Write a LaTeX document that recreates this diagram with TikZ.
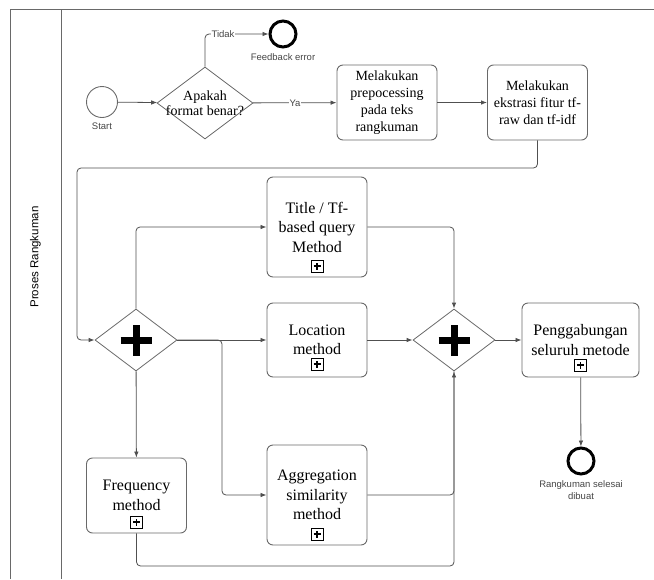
\documentclass[tikz,border=0pt]{standalone}
\usepackage{fontspec}
\setmainfont{Liberation Serif}
\setsansfont{Liberation Sans}
\usetikzlibrary{arrows.meta,shapes.geometric}
\definecolor{bpmn_line}{RGB}{80, 80, 80}
\definecolor{bpmn_border}{RGB}{105, 105, 105}
\definecolor{lbl_text}{RGB}{70, 70, 70}
\tikzstyle{task}=[rectangle,rounded corners=6pt,draw=bpmn_border,fill=white,
  line width=0.9pt,minimum width=100pt,minimum height=75pt,align=center,
  font=\fontsize{14}{17}\selectfont]
\tikzstyle{subtask}=[task,font=\fontsize{16}{19.5}\selectfont]
\tikzstyle{decision}=[diamond,draw=bpmn_border,line width=0.8pt,inner sep=0pt,
  minimum width=96pt,minimum height=72pt]
\tikzstyle{andgate}=[diamond,draw=bpmn_border,line width=0.8pt,inner sep=0pt,
  minimum width=82pt,minimum height=62pt,
  path picture={\draw[line width=7pt,black]
    ([xshift=-15.5pt]path picture bounding box.center) -- ([xshift=15.5pt]path picture bounding box.center)
    ([yshift=-15.5pt]path picture bounding box.center) -- ([yshift=15.5pt]path picture bounding box.center);}]
\tikzstyle{marker}=[rectangle,draw=black,line width=0.7pt,minimum size=12pt,inner sep=0pt,
  path picture={\draw[line width=1.4pt]
    ([xshift=-3.5pt]path picture bounding box.center) -- ([xshift=3.5pt]path picture bounding box.center)
    ([yshift=-3.5pt]path picture bounding box.center) -- ([yshift=3.5pt]path picture bounding box.center);}]
\tikzstyle{startev}=[circle,draw=bpmn_border,line width=0.9pt,minimum size=31pt,inner sep=0pt]
\tikzstyle{endev}=[circle,draw=black,line width=3pt,minimum size=26pt,inner sep=0pt]
\tikzstyle{lbl}=[font=\sffamily\fontsize{9.5}{12}\selectfont,text=lbl_text,align=center]
\tikzstyle{edgelabel}=[lbl,fill=white,inner sep=1pt]
\tikzstyle{lane}=[draw=bpmn_border,line width=1pt]
\tikzstyle{flow}=[draw=bpmn_line,line width=0.8pt,rounded corners=4pt,
  -{Latex[length=6pt,width=4.5pt]}]
\tikzstyle{joinline}=[draw=bpmn_line,line width=0.8pt,rounded corners=4pt]
\tikzstyle{none}=[]

\begin{document}
\begin{tikzpicture}[x=10pt,y=10pt]
            \useasboundingbox (0,0) rectangle (65.4,-57.9);
            % pool and lane
            \draw [style=lane] (1.0,-57.9) -- (1.0,-0.9) -- (65.4,-0.9);
            \draw [style=lane] (6.15,-0.9) -- (6.15,-57.9);
            \node [style=none, rotate=90, font=\sffamily\fontsize{11.5}{13}\selectfont] (0) at (3.55,-25.7) {Proses Rangkuman};
            % events, gateways, tasks
            \node [style=startev, label={[lbl, label distance=1pt]below:Start}] (1) at (10.2,-10.2) {};
            \node [style=decision, label={[font=\fontsize{14}{15}\selectfont, align=center]center:Apakah\\format benar?}] (2) at (20.5,-10.3) {};
            \node [style=endev, label={[lbl, label distance=2pt]below:Feedback error}] (3) at (28.3,-3.4) {};
            \node [style=task] (4) at (38.7,-10.25) {Melakukan\\prepocessing\\pada teks\\rangkuman};
            \node [style=task] (5) at (53.75,-10.25) {Melakukan\\ekstrasi fitur tf-\\raw dan tf-idf};
            \node [style=andgate] (6) at (13.6,-34) {};
            \node [style=subtask, minimum height=100pt] (7) at (31.7,-22.7) {Title / Tf-\\based query\\Method};
            \node [style=subtask, minimum height=74pt] (8) at (31.7,-34) {Location\\method};
            \node [style=subtask] (9) at (13.65,-49.55) {Frequency\\method};
            \node [style=subtask, minimum height=100pt] (10) at (31.7,-49.5) {Aggregation\\similarity\\method};
            \node [style=andgate] (11) at (45.4,-34) {};
            \node [style=subtask, minimum width=117pt, minimum height=74pt] (12) at (58.05,-34) {Penggabungan\\seluruh metode};
            \node [style=endev, label={[lbl, label distance=2pt]below:Rangkuman selesai\\dibuat}] (13) at (58.1,-46.1) {};
            % subprocess markers
            \node [style=marker] (50) at (31.7,-26.6) {};
            \node [style=marker] (51) at (31.7,-36.4) {};
            \node [style=marker] (52) at (13.65,-52.2) {};
            \node [style=marker] (53) at (31.7,-53.4) {};
            \node [style=marker] (54) at (58.05,-36.5) {};
            % bend points
            \node [style=none] (20) at (20.5,-3.4) {};
            \node [style=none] (21) at (53.75,-16.8) {};
            \node [style=none] (22) at (7.7,-16.8) {};
            \node [style=none] (23) at (7.7,-34) {};
            \node [style=none] (24) at (13.6,-22.7) {};
            \node [style=none] (25) at (22.2,-34) {};
            \node [style=none] (26) at (22.2,-49.5) {};
            \node [style=none] (27) at (45.4,-22.7) {};
            \node [style=none] (28) at (13.65,-56.6) {};
            \node [style=none] (29) at (45.4,-56.6) {};
            \node [style=none] (30) at (45.4,-49.5) {};
            % flows
            \draw [style=flow] (1) to (2);
            \draw [style=flow] (2) to (20.center) to (3);
            \draw [style=flow] (2) to (4);
            \draw [style=flow] (4) to (5);
            \draw [style=flow] (5) to (21.center) to (22.center) to (23.center) to (6);
            \draw [style=flow] (6) to (24.center) to (7);
            \draw [style=flow] (6) to (8);
            \draw [style=flow] (6.east) to (25.center) to (26.center) to (10);
            \draw [style=flow] (6) to (9);
            \draw [style=flow] (7) to (27.center) to (11);
            \draw [style=flow] (8) to (11);
            \draw [style=flow] (9) to (28.center) to (29.center) to (11);
            \draw [style=joinline] (10) to (30.center) to (11.south);
            \draw [style=flow] (11) to (12);
            \draw [style=flow] (12) to (13);
            % flow labels
            \node [style=edgelabel] (40) at (22.3,-3.4) {Tidak};
            \node [style=edgelabel] (41) at (29.5,-10.3) {Ya};
    \end{tikzpicture}
\end{document}
